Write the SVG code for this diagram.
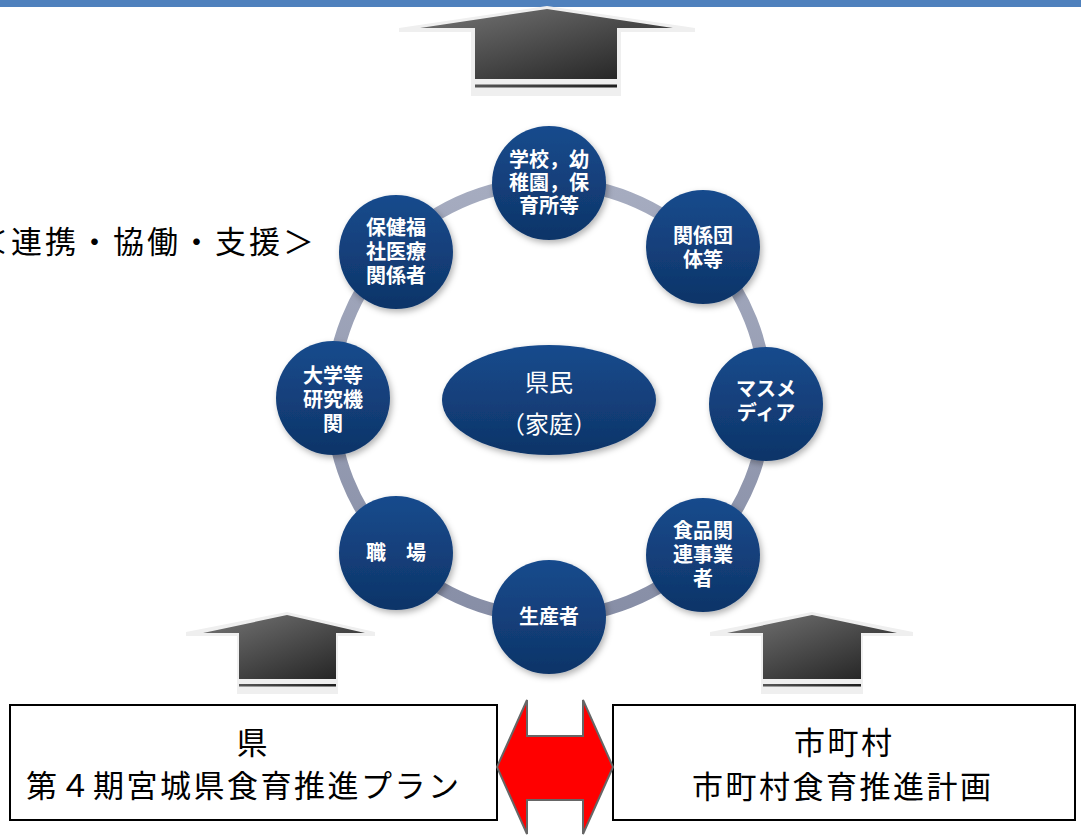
<svg xmlns="http://www.w3.org/2000/svg" width="1081" height="837" viewBox="0 0 1081 837">
<defs>
<linearGradient id="nodeG" x1="0" y1="0" x2="0" y2="1">
<stop offset="0" stop-color="#184b8d"/>
<stop offset="1" stop-color="#0e3468"/>
</linearGradient>
<linearGradient id="arrG" x1="0" y1="0" x2="1" y2="1">
<stop offset="0" stop-color="#767676"/>
<stop offset="1" stop-color="#1e1e1e"/>
</linearGradient>
<linearGradient id="lineG" x1="0" y1="0" x2="1" y2="0">
<stop offset="0" stop-color="#555"/>
<stop offset="1" stop-color="#1e1e1e"/>
</linearGradient>
<linearGradient id="ringG" x1="0" y1="0" x2="0" y2="1">
<stop offset="0" stop-color="#a6acc0"/>
<stop offset="1" stop-color="#878ea6"/>
</linearGradient>
<filter id="sh" x="-30%" y="-30%" width="160%" height="160%">
<feDropShadow dx="2" dy="3" stdDeviation="3" flood-color="#000" flood-opacity="0.3"/>
</filter>
</defs>
<style>
.node{fill:url(#nodeG);filter:url(#sh)}
.nt{font-family:"Noto Sans CJK JP","Liberation Sans",sans-serif;font-weight:bold;fill:#fff;font-size:20px;text-anchor:middle}
.ct{font-family:"Noto Sans CJK JP","Liberation Sans",sans-serif;fill:#fff;font-size:24px;text-anchor:middle}
.bt{font-family:"Noto Sans CJK JP","Liberation Sans",sans-serif;fill:#000;font-size:31px}
.box{fill:#fff;stroke:#000;stroke-width:2}
.glow{fill:#efefef}
.arr{fill:url(#arrG)}
.ln{fill:url(#lineG)}
</style>
<rect x="0" y="0" width="1081" height="837" fill="#fff"/>
<rect x="-5" y="-10" width="1091" height="17" rx="4" fill="#4f81bd"/>

<g id="arrow-top">
<polygon class="glow" points="547,6 695,28 695,32 621,32 621,96 471,96 471,32 399,32 399,28"/>
<polygon class="arr" points="547,9 673,28 617,28 617,79 475,79 475,28 420,28"/>
<rect class="ln" x="475" y="84.5" width="142" height="3"/>
</g>
<g id="arrow-left">
<polygon class="glow" points="287,612 375,632 375,636 338,636 338,694 237,694 237,636 186,636 186,632"/>
<polygon class="arr" points="287,615 365,633 336,633 336,679 239,679 239,633 203,633"/>
<rect class="ln" x="239" y="684" width="97" height="2.5"/>
</g>
<g id="arrow-right">
<polygon class="glow" points="812,612 913,632 913,636 863,636 863,694 761,694 761,636 710,636 710,632"/>
<polygon class="arr" points="812,615 897,633 861,633 861,679 763,679 763,633 727,633"/>
<rect class="ln" x="763" y="684" width="98" height="2.5"/>
</g>

<text class="bt" x="-23" y="253" font-size="31" letter-spacing="3">＜連携・協働・支援＞</text>

<g id="connectors">
<circle cx="549" cy="400" r="217" fill="none" stroke="url(#ringG)" stroke-width="13"/>
</g>

<g id="center">
<ellipse class="node" cx="549" cy="400" rx="107" ry="55"/>
<text class="ct" x="549" y="391">県民</text>
<text class="ct" x="549" y="433">（家庭）</text>
</g>

<g id="n-school">
<circle class="node" cx="549" cy="183" r="57"/>
<text class="nt" font-size="18" x="549" y="167">学校，幼</text>
<text class="nt" font-size="18" x="549" y="190">稚園，保</text>
<text class="nt" font-size="18" x="549" y="213">育所等</text>
</g>
<g id="n-dantai">
<circle class="node" cx="703" cy="247" r="57"/>
<text class="nt" x="703" y="243">関係団</text>
<text class="nt" x="703" y="267">体等</text>
</g>
<g id="n-media">
<circle class="node" cx="766" cy="404" r="57"/>
<text class="nt" x="766" y="396">マスメ</text>
<text class="nt" x="766" y="420">ディア</text>
</g>
<g id="n-food">
<circle class="node" cx="703" cy="555" r="57"/>
<text class="nt" x="703" y="538">食品関</text>
<text class="nt" x="703" y="562">連事業</text>
<text class="nt" x="703" y="586">者</text>
</g>
<g id="n-producer">
<circle class="node" cx="549" cy="617" r="57"/>
<text class="nt" x="549" y="624">生産者</text>
</g>
<g id="n-work">
<circle class="node" cx="396" cy="553" r="57"/>
<text class="nt" x="396" y="560">職　場</text>
</g>
<g id="n-univ">
<circle class="node" cx="333" cy="398" r="57"/>
<text class="nt" x="333" y="383">大学等</text>
<text class="nt" x="333" y="407">研究機</text>
<text class="nt" x="333" y="431">関</text>
</g>
<g id="n-health">
<circle class="node" cx="396" cy="252" r="57"/>
<text class="nt" x="396" y="235">保健福</text>
<text class="nt" x="396" y="259">社医療</text>
<text class="nt" x="396" y="283">関係者</text>
</g>

<g id="box-pref">
<rect class="box" x="10" y="705" width="487" height="115"/>
<text class="bt" x="252" y="754" text-anchor="middle">県</text>
<text class="bt" x="26" y="797" letter-spacing="2.5">第４期宮城県食育推進プラン</text>
</g>
<g id="box-city">
<rect class="box" x="613" y="705" width="462" height="115"/>
<text class="bt" x="794" y="754" letter-spacing="2.5">市町村</text>
<text class="bt" x="692" y="798" letter-spacing="2.5">市町村食育推進計画</text>
</g>
<g id="double-arrow">
<polygon points="497,767 527,700 527,736 583,736 583,700 613,767 583,834 583,800 527,800 527,834" fill="#ff0000" stroke="#666" stroke-width="2" stroke-linejoin="miter"/>
</g>
</svg>
